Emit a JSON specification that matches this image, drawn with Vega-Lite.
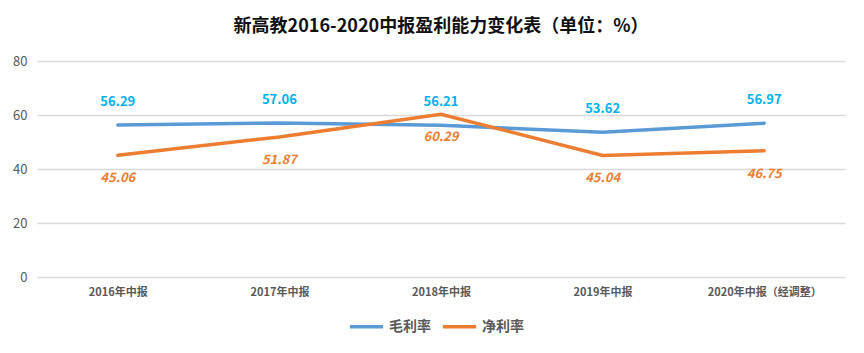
{
  "$schema": "https://vega.github.io/schema/vega-lite/v6.json",
  "autosize": {"type": "none"},
  "width": 808,
  "height": 216,
  "padding": {"left": 37, "top": 61, "right": 19, "bottom": 76},
  "background": "white",
  "title": {
    "text": "新高教2016-2020中报盈利能力变化表（单位：%）",
    "font": "Noto Sans CJK SC",
    "fontSize": 18,
    "fontWeight": "bold",
    "color": "#111111",
    "anchor": "middle",
    "offset": 19
  },
  "data": {
    "values": [
      {"period": "2016年中报", "metric": "毛利率", "value": 56.29},
      {"period": "2017年中报", "metric": "毛利率", "value": 57.06},
      {"period": "2018年中报", "metric": "毛利率", "value": 56.21},
      {"period": "2019年中报", "metric": "毛利率", "value": 53.62},
      {"period": "2020年中报（经调整）", "metric": "毛利率", "value": 56.97},
      {"period": "2016年中报", "metric": "净利率", "value": 45.06},
      {"period": "2017年中报", "metric": "净利率", "value": 51.87},
      {"period": "2018年中报", "metric": "净利率", "value": 60.29},
      {"period": "2019年中报", "metric": "净利率", "value": 45.04},
      {"period": "2020年中报（经调整）", "metric": "净利率", "value": 46.75}
    ]
  },
  "encoding": {
    "x": {
      "field": "period",
      "type": "ordinal",
      "sort": null,
      "scale": {"type": "point", "padding": 0.5},
      "axis": {
        "title": null,
        "labelAngle": 0,
        "domain": false,
        "ticks": false,
        "labelPadding": 9,
        "labelFont": "Noto Sans CJK SC",
        "labelFontSize": 11,
        "labelFontWeight": "bold",
        "labelColor": "#595959"
      }
    },
    "y": {
      "field": "value",
      "type": "quantitative",
      "scale": {"domain": [0, 80]},
      "axis": {
        "title": null,
        "values": [0, 20, 40, 60, 80],
        "domain": false,
        "ticks": false,
        "labelPadding": 10,
        "labelFont": "Noto Sans CJK SC",
        "labelFontSize": 13,
        "labelColor": "#595959",
        "gridColor": "#d9d9d9",
        "gridWidth": 1.3
      }
    }
  },
  "layer": [
    {
      "mark": {"type": "line", "strokeWidth": 3.5, "strokeCap": "round"},
      "encoding": {
        "color": {
          "field": "metric",
          "type": "nominal",
          "scale": {"domain": ["毛利率", "净利率"], "range": ["#5B9BD5", "#ED7D31"]},
          "legend": {
            "title": null,
            "orient": "none",
            "direction": "horizontal",
            "legendX": 311,
            "legendY": 247,
            "symbolType": "stroke",
            "symbolStrokeWidth": 3.5,
            "symbolSize": 1100,
            "labelFont": "Noto Sans CJK SC",
            "labelFontSize": 14,
            "labelFontWeight": "bold",
            "labelColor": "#595959",
            "labelOffset": 4,
            "columnPadding": 4
          }
        }
      }
    },
    {
      "transform": [{"filter": "datum.metric === '毛利率'"}],
      "mark": {"type": "text", "dy": -23, "font": "Noto Sans CJK SC", "fontSize": 13, "fontWeight": "bold", "color": "#00B0F0"},
      "encoding": {"text": {"field": "value", "type": "quantitative", "format": ".2f"}}
    },
    {
      "transform": [{"filter": "datum.metric === '净利率'"}],
      "mark": {"type": "text", "dy": 23, "font": "Noto Sans CJK SC", "fontSize": 13, "fontWeight": "bold", "fontStyle": "italic", "color": "#ED7D31"},
      "encoding": {"text": {"field": "value", "type": "quantitative", "format": ".2f"}}
    }
  ],
  "config": {
    "view": {"stroke": null}
  }
}
